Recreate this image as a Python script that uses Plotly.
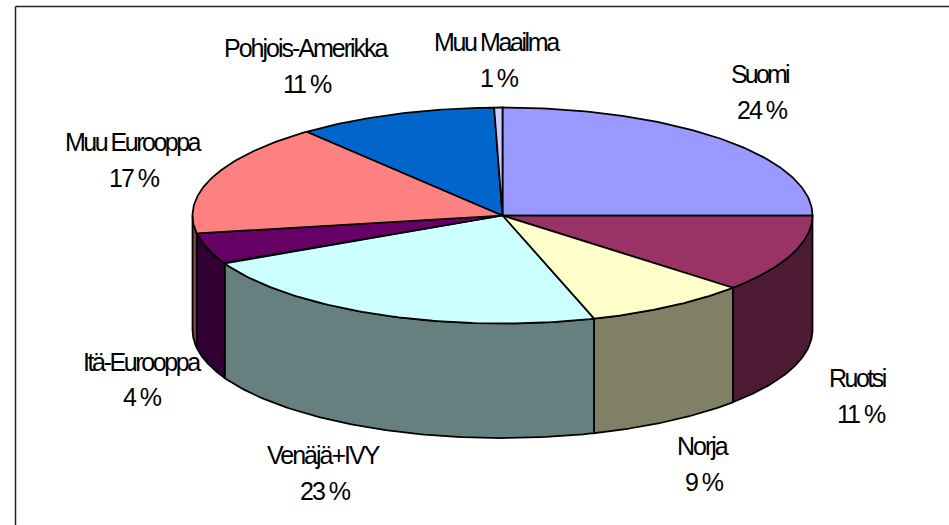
import numpy as np
import plotly.graph_objects as go

# Data
categories = ["Suomi", "Ruotsi", "Norja", "Venäjä+IVY", "Itä-Eurooppa", "Muu Eurooppa", "Pohjois-Amerikka", "Muu Maailma"]
percent_labels = ["24 %", "11 %", "9 %", "23 %", "4 %", "17 %", "11 %", "1 %"]
# slice sizes as drawn (share of the turn)
slice_shares = [25.0, 11.67, 8.56, 22.45, 4.67, 16.78, 10.44, 0.43]

# Styles
top_colors = ["#9999FF", "#993366", "#FFFFCC", "#CCFFFF", "#660066", "#FF8080", "#0066CC", "#CCCCFF"]
side_colors = ["#4D4D80", "#4D1A33", "#808066", "#668080", "#330033", "#804040", "#003366", "#666680"]

# Layout (pixels in the axes' coordinate system)
W, H = 949, 525
CX, CY, RX, RY, DEPTH = 502.5, 215.5, 310.0, 108.0, 114.5
LABEL_XY = [
    ((760, 74), (762, 110)),
    ((857, 378), (861, 414)),
    ((702.5, 446), (704, 482)),
    ((324, 455), (325.5, 491)),
    ((142, 362), (142, 397)),
    ((133, 142), (134.5, 178)),
    ((306.7, 48), (307.5, 84)),
    ((497, 42), (499.7, 78)),
]
FONT = "Liberation Sans"
SIZE = 25
NAME_SPACING = [-2.8, -2.5, -2.0, -2.0, -2.4, -2.5, -2.0, -2.4]
PCT_SPACING = -2.0


def point(t, dz=0.0):
    return CX + RX * np.sin(t), CY - RY * np.cos(t) + dz


edges = np.radians(np.cumsum([0] + slice_shares) * 3.6)
fig = go.Figure()
LINE = dict(color="#000000", width=1.75)

# Side walls: only the part of each slice facing the viewer (90..270 degrees)
for i in range(len(slice_shares)):
    a, b = max(edges[i], np.pi / 2), min(edges[i + 1], 3 * np.pi / 2)
    if b <= a:
        continue
    t = np.linspace(a, b, 80)
    x1, y1 = point(t)
    x2, y2 = point(t[::-1], DEPTH)
    fig.add_trace(go.Scatter(
        x=np.r_[x1, x2, x1[0]], y=np.r_[y1, y2, y1[0]],
        mode="lines", fill="toself", fillcolor=side_colors[i], line=LINE,
        hoverinfo="skip", showlegend=False,
    ))

# Top faces
for i in range(len(slice_shares)):
    t = np.linspace(edges[i], edges[i + 1], 100)
    x, y = point(t)
    fig.add_trace(go.Scatter(
        x=np.r_[CX, x, CX], y=np.r_[CY, y, CY],
        mode="lines", fill="toself", fillcolor=top_colors[i], line=LINE,
        hoverinfo="skip", showlegend=False, name=categories[i],
    ))

annotations = []
for name, pct, (p1, p2), sp in zip(categories, percent_labels, LABEL_XY, NAME_SPACING):
    for s, (px, py), spacing in ((name, p1, sp), (pct, p2, PCT_SPACING)):
        annotations.append(dict(
            x=px, y=py, xref="x", yref="y", showarrow=False,
            xanchor="center", yanchor="middle",
            text=f'<span style="letter-spacing:{spacing}px">{s}</span>',
            font=dict(family=FONT, size=SIZE, color="#000000"),
        ))

fig.update_layout(
    width=W, height=H, autosize=False,
    margin=dict(l=0, r=0, t=0, b=0),
    paper_bgcolor="#FFFFFF", plot_bgcolor="#FFFFFF",
    xaxis=dict(range=[0, W], visible=False, fixedrange=True),
    yaxis=dict(range=[H, 0], visible=False, fixedrange=True),
    annotations=annotations,
    shapes=[
        dict(type="line", xref="x", yref="y", x0=15.5, y0=6.5, x1=W, y1=6.5, line=dict(color="#222222", width=1.5)),
        dict(type="line", xref="x", yref="y", x0=15.5, y0=6.5, x1=15.5, y1=H, line=dict(color="#222222", width=1.5)),
    ],
)
fig.write_html(
    "out.html",
    config={"displayModeBar": False},
    post_script="document.body.style.margin='0';document.body.style.overflow='hidden';",
)
